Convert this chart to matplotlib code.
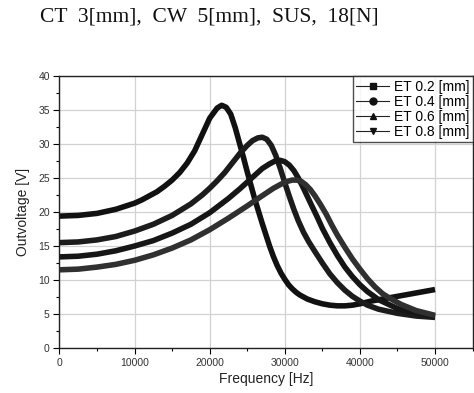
import matplotlib
matplotlib.use("Agg")
import matplotlib.pyplot as plt
from matplotlib.ticker import MultipleLocator
from matplotlib.lines import Line2D

# ---- data ----
f_02 = [0, 2500, 5000, 7500, 10000, 11000, 12000, 13000, 14000, 15000, 16000, 17000,
        18000, 19000, 20000, 21000, 21600, 22200, 22800, 23400, 24000, 24500, 25000,
        25500, 26000, 26500, 27000, 27500, 28000, 28500, 29000, 29500, 30000, 30500,
        31000, 31500, 32000, 33000, 34000, 35000, 36000, 37000, 38000, 39000, 40000,
        41500, 43000, 44500, 46000, 47500, 49000, 50000]
v_02 = [19.4, 19.5, 19.8, 20.4, 21.3, 21.8, 22.4, 23.0, 23.8, 24.7, 25.8, 27.2,
        29.0, 31.4, 33.8, 35.3, 35.7, 35.4, 34.4, 32.4, 30.0, 28.0, 25.9,
        23.9, 21.9, 20.1, 18.3, 16.6, 14.9, 13.4, 12.1, 11.0, 10.1, 9.3,
        8.7, 8.2, 7.8, 7.2, 6.8, 6.5, 6.3, 6.2, 6.2, 6.3, 6.5,
        6.9, 7.2, 7.5, 7.8, 8.1, 8.4, 8.6]

f_04 = [0, 2500, 5000, 7500, 10000, 12500, 15000, 17500, 19000, 20000, 21000, 22000,
        23000, 24000, 25000, 25700, 26400, 27000, 27600, 28200, 28800, 29400, 30000,
        30600, 31200, 31800, 32500, 33200, 34000, 35000, 36000, 37000, 38000, 39000,
        40000, 41000, 42500, 45000, 47500, 50000]
v_04 = [15.5, 15.6, 15.9, 16.4, 17.2, 18.2, 19.5, 21.2, 22.5, 23.5, 24.6, 25.8,
        27.2, 28.6, 29.8, 30.5, 30.9, 31.0, 30.7, 29.8, 28.3, 26.4, 24.3,
        22.3, 20.4, 18.7, 17.0, 15.6, 14.2, 12.5, 10.9, 9.6, 8.5, 7.6,
        6.9, 6.3, 5.7, 5.1, 4.7, 4.5]

f_06 = [0, 2500, 5000, 7500, 10000, 12500, 15000, 17500, 20000, 22500, 24000, 25000,
        26000, 27000, 28000, 28700, 29400, 30000, 30600, 31200, 31800, 32400, 33000,
        33600, 34300, 35000, 36000, 37000, 38000, 39000, 40000, 41000, 42500, 45000,
        47500, 50000]
v_06 = [13.4, 13.5, 13.8, 14.3, 15.0, 15.8, 16.9, 18.2, 19.9, 22.0, 23.4, 24.4,
        25.4, 26.4, 27.1, 27.5, 27.6, 27.4, 26.9, 26.1, 25.0, 23.7, 22.3,
        20.9, 19.3, 17.6, 15.5, 13.6, 11.9, 10.5, 9.3, 8.3, 7.1, 5.8,
        5.1, 4.6]

f_08 = [0, 2500, 5000, 7500, 10000, 12500, 15000, 17500, 20000, 22500, 25000, 27000,
        28500, 29500, 30300, 31000, 31600, 32200, 32800, 33400, 34000, 34700, 35500,
        36300, 37000, 38000, 39000, 40000, 41000, 42000, 43000, 44000, 45500, 47500,
        50000]
v_08 = [11.5, 11.6, 11.9, 12.3, 12.9, 13.7, 14.7, 15.9, 17.4, 19.1, 20.9, 22.4,
        23.5, 24.1, 24.5, 24.7, 24.7, 24.5, 24.0, 23.3, 22.4, 21.2, 19.7,
        18.0, 16.6, 14.8, 13.1, 11.6, 10.2, 9.0, 8.0, 7.3, 6.4, 5.5,
        4.8]

labels = ["ET 0.2 [mm]", "ET 0.4 [mm]", "ET 0.6 [mm]", "ET 0.8 [mm]"]
title = "CT  3[mm],  CW  5[mm],  SUS,  18[N]"
x_label = "Frequency [Hz]"
y_label = "Outvoltage [V]"

# ---- figure ----
fig = plt.figure(figsize=(4.74, 3.93), dpi=100)
ax = fig.add_axes([0.1255, 0.1145, 0.8715, 0.692])

series = [(f_02, v_02), (f_04, v_04), (f_06, v_06), (f_08, v_08)]
markers = ["s", "o", "^", "v"]
colors = ["#111111", "#1c1c1c", "#161616", "#303030"]
handles = []
for (fx, vy), m, c, lab in zip(series, markers, colors, labels):
    ax.plot(fx, vy, color=c, lw=4.0, solid_capstyle="butt",
            solid_joinstyle="round", zorder=3)
    handles.append(Line2D([], [], color="#222222", lw=0.8, marker=m, ms=5,
                          markerfacecolor="#111111", markeredgecolor="#111111",
                          label=lab))

ax.set_xlim(0, 55000)
ax.set_ylim(0, 40)
ax.xaxis.set_major_locator(MultipleLocator(10000))
ax.xaxis.set_minor_locator(MultipleLocator(5000))
ax.yaxis.set_major_locator(MultipleLocator(5))
ax.yaxis.set_minor_locator(MultipleLocator(2.5))
ax.grid(True, which="major", color="#d2d2d2", lw=0.9, zorder=0)
ax.tick_params(which="major", direction="out", length=4, width=0.8,
               labelsize=7.5, labelcolor="#333333", pad=3)
ax.tick_params(which="minor", direction="out", length=2, width=0.8)
for s in ax.spines.values():
    s.set_linewidth(1.0)
    s.set_color("#222222")

for lbl in ax.get_xticklabels() + ax.get_yticklabels():
    lbl.set_family("Liberation Sans")

ax.set_xlabel(x_label, fontsize=10, family="Liberation Sans", color="#222222", labelpad=3)
ax.set_ylabel(y_label, fontsize=10, family="Liberation Sans", color="#222222", labelpad=6)

leg = ax.legend(handles=handles, loc="upper right", bbox_to_anchor=(1.0, 1.0),
                prop={"family": "Liberation Sans", "size": 10},
                frameon=True, fancybox=False, edgecolor="#222222",
                borderaxespad=0.0, handlelength=2.4, handletextpad=0.3,
                labelspacing=0.08, borderpad=0.25)
leg.get_frame().set_linewidth(1.0)

fig.text(40 / 474, 1 - 17 / 393, title, fontsize=15.5, family="Liberation Serif",
         color="#111111", ha="left", va="center")

fig.savefig("out.png", dpi=100)
